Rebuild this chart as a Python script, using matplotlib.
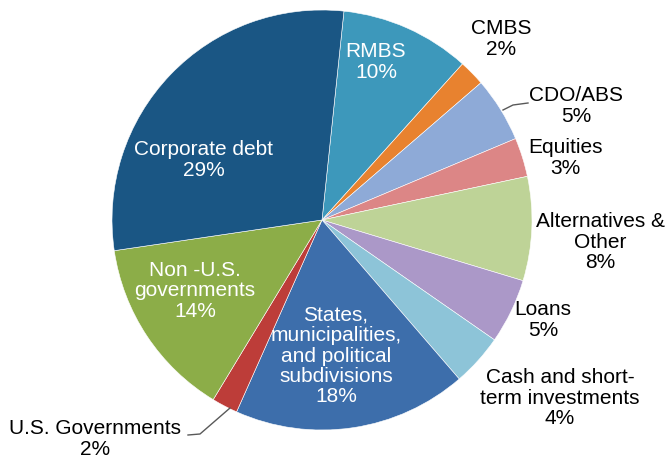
import matplotlib
matplotlib.use("Agg")
import matplotlib.pyplot as plt

plt.rcParams['font.family'] = ['Liberation Sans', 'DejaVu Sans']

# portfolio share by asset class, clockwise from the top
names = ['RMBS', 'CMBS', 'CDO/ABS', 'Equities', 'Alternatives &\nOther', 'Loans',
         'Cash and short-\nterm investments',
         'States,\nmunicipalities,\nand political\nsubdivisions',
         'U.S. Governments', 'Non -U.S.\ngovernments', 'Corporate debt']
values = [10, 2, 5, 3, 8, 5, 4, 18, 2, 14, 29]
colors = ['#3d98bb', '#e8822f', '#8eaad7', '#dc8686', '#bed397', '#ab98c8',
          '#8dc4d8', '#3d6eab', '#bd3d39', '#8cad48', '#1a5684']
inside = [True, False, False, False, False, False, False, True, False, True, True]

# label centres in pixels (x from left, y from top)
label_px = [(376, 62), (501, 39), (576, 106), (565, 158), (600, 242), (543, 320),
            (560, 398), (336, 356), (95, 439), (195, 291), (204, 160)]

W, H = 666, 463
cx, cy, r = 322, 220, 210

fig = plt.figure(figsize=(W / 100, H / 100), dpi=100)
ax = fig.add_axes([(cx - r) / W, (H - cy - r) / H, 2 * r / W, 2 * r / H])

ax.pie(values, colors=colors, startangle=84, counterclock=False, radius=1,
       wedgeprops=dict(edgecolor='white', linewidth=0.4))

# pie() pads the limits, so pin them afterwards
ax.set_xlim(-1, 1)
ax.set_ylim(-1, 1)
ax.set_aspect('equal')
ax.axis('off')


def to_data(px, py):
    return (px - cx) / r, (cy - py) / r


for name, v, inn, (px, py) in zip(names, values, inside, label_px):
    x, y = to_data(px, py)
    ax.text(x, y, f'{name}\n{v}%', ha='center', va='center', fontsize=15,
            color='white' if inn else 'black', linespacing=1.1, clip_on=False)

# leader lines for the small outside labels
for pts in [[(503, 110), (513, 105), (528, 103)],
            [(230, 408), (200, 434), (188, 435)]]:
    xs, ys = zip(*[to_data(*p) for p in pts])
    ax.plot(xs, ys, color='#595959', lw=1, clip_on=False)

fig.savefig('out.png', dpi=100)
